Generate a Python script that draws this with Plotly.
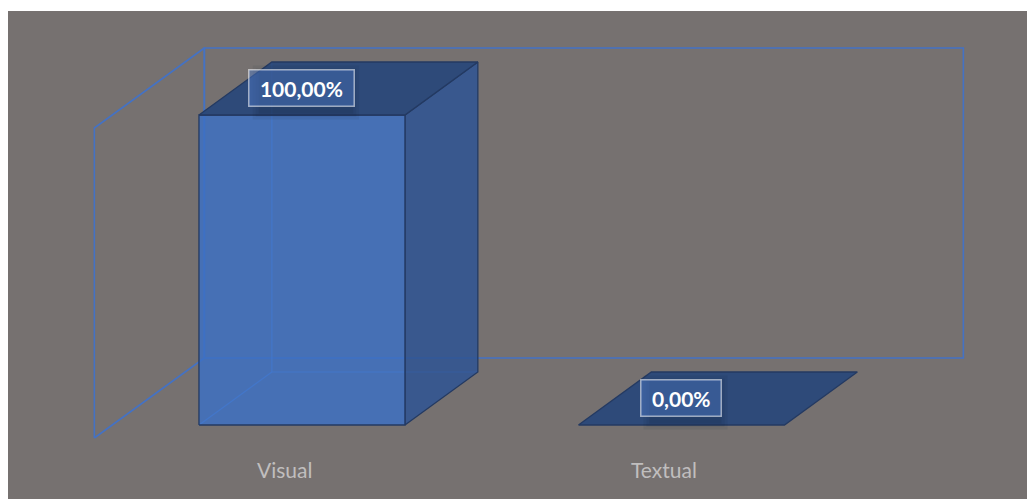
import plotly.graph_objects as go

# ---------------- data ----------------
categories = ["Visual", "Textual"]
values = [100.0, 0.0]              # percent
value_labels = ["100,00%", "0,00%"]

# ---------------- style / projection ----------------
AXIS_MIN, AXIS_MAX = 0.0, 100.0
DX = 0.2899      # x shift (category units) per unit of depth
DY = 25.81       # y shift (value units) per unit of depth
T_FRONT, T_BACK = 0.1625, 0.825
HALF_W = 0.2714
X_LO, X_HI = -0.5, len(categories) - 0.5

BG = "#767170"
WALL = "#4472C4"
EDGE = "rgb(36,58,98)"
FRONT = "rgba(60,112,197,0.82)"
SIDE = "rgba(47,84,147,0.86)"
TOP = "rgba(40,70,122,0.92)"
HIDDEN = "rgba(95,145,230,0.95)"


def P(x, v, t):
    return x + DX * t, v + DY * t


def poly(points, fill, line_color, width=1.3, closed=True):
    pts = [P(*p) for p in points]
    if closed:
        pts = pts + [pts[0]]
    return go.Scatter(
        x=[p[0] for p in pts], y=[p[1] for p in pts], mode="lines",
        fill="toself" if fill else None,
        fillcolor=fill,
        line=dict(color=line_color, width=width),
        hoverinfo="skip", showlegend=False,
    )


fig = go.Figure()

# walls (back + left side)
fig.add_trace(poly([(X_LO, AXIS_MIN, 1), (X_HI, AXIS_MIN, 1), (X_HI, AXIS_MAX, 1), (X_LO, AXIS_MAX, 1)],
                   None, WALL, width=1.6))
fig.add_trace(poly([(X_LO, AXIS_MIN, 0), (X_LO, AXIS_MIN, 1), (X_LO, AXIS_MAX, 1), (X_LO, AXIS_MAX, 0)],
                   None, WALL, width=1.6))

shapes = []
# bars
for i, (cat, v) in enumerate(zip(categories, values)):
    x0, x1 = i - HALF_W, i + HALF_W
    if v > 0:
        # hidden edges seen through the translucent bar
        fig.add_trace(poly([(x0, v, T_BACK), (x0, 0, T_BACK), (x1, 0, T_BACK)], None, HIDDEN, width=1.2, closed=False))
        fig.add_trace(poly([(x0, 0, T_FRONT), (x0, 0, T_BACK)], None, HIDDEN, width=1.2, closed=False))
        # side face
        fig.add_trace(poly([(x1, 0, T_FRONT), (x1, 0, T_BACK), (x1, v, T_BACK), (x1, v, T_FRONT)], SIDE, EDGE))
        # front face
        fig.add_trace(poly([(x0, 0, T_FRONT), (x1, 0, T_FRONT), (x1, v, T_FRONT), (x0, v, T_FRONT)], FRONT, EDGE))
    # top face
    fig.add_trace(poly([(x0, v, T_FRONT), (x1, v, T_FRONT), (x1, v, T_BACK), (x0, v, T_BACK)], TOP, EDGE))

    # value label with a soft shadow (pixel-sized shapes anchored at the label point)
    lx, _ = P(i, v, T_FRONT)
    _, ly = P(i, v, (T_FRONT + T_BACK) / 2)
    half_w = 6 + 5.6 * len(value_labels[i])
    for k, a in enumerate([0.07, 0.08, 0.10]):
        g = 8 - 3 * k
        shapes.append(dict(
            type="rect", layer="above", xref="x", yref="y",
            xsizemode="pixel", ysizemode="pixel", xanchor=lx, yanchor=ly,
            x0=-half_w - g + 4, x1=half_w + g + 4, y0=-19 - g - 4, y1=19 + g - 4,
            fillcolor="rgba(15,25,45,%s)" % a, line=dict(width=0),
        ))
    fig.add_annotation(
        x=lx, y=ly, text="&nbsp;<b>%s</b>&nbsp;" % value_labels[i], showarrow=False,
        font=dict(family="Lato", size=21, color="white"),
        bgcolor="rgba(80,125,205,0.45)", bordercolor="rgba(255,255,255,0.55)",
        borderwidth=1.5, borderpad=5, xanchor="center", yanchor="middle",
    )
    # category label
    fig.add_annotation(
        x=i, y=-10.3, text=cat, showarrow=False,
        font=dict(family="Lato", size=21, color="rgb(192,190,190)"),
        xanchor="center", yanchor="middle",
    )

fig.update_layout(
    width=1027, height=491,
    margin=dict(l=0, r=0, t=3, b=0),
    paper_bgcolor="white", plot_bgcolor=BG,
    xaxis=dict(range=[-0.7275, 1.9787], visible=False, showgrid=False, zeroline=False, fixedrange=True),
    yaxis=dict(range=[-19.68, 137.74], visible=False, showgrid=False, zeroline=False, fixedrange=True),
    shapes=shapes,
    showlegend=False,
)

fig.write_html("out.html")
